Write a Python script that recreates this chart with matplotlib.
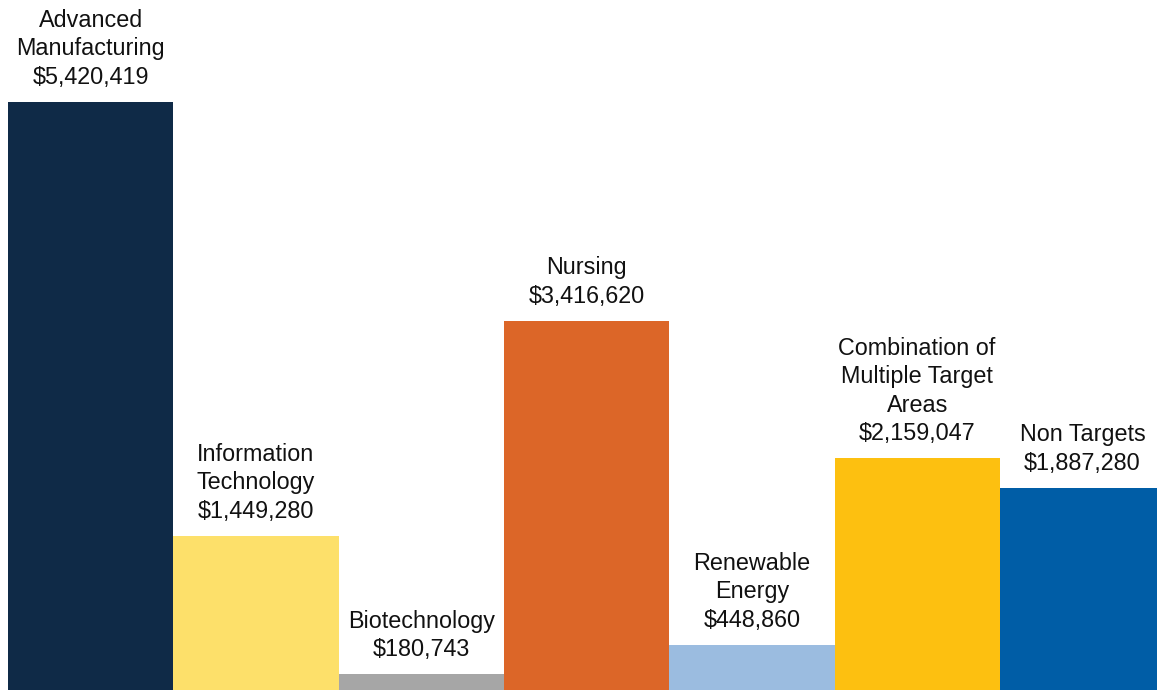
import matplotlib.pyplot as plt
import numpy as np

plt.rcParams['font.family'] = ['Liberation Sans', 'DejaVu Sans']

categories = ['Advanced\nManufacturing', 'Information\nTechnology', 'Biotechnology',
              'Nursing', 'Renewable\nEnergy', 'Combination of\nMultiple Target\nAreas',
              'Non Targets']
values = [5420419, 1449280, 180743, 3416620, 448860, 2159047, 1887280]
colors = ['#0F2A47', '#FDE06A', '#A6A6A6', '#DC6628', '#9BBCE0', '#FDC010', '#005DA6']

W, H = 1157, 690
fig = plt.figure(figsize=(W / 100, H / 100), dpi=100)
ax = fig.add_axes([8 / W, 0, (W - 8) / W, 1])

x = np.arange(len(values))
ax.bar(x, values, width=1.0, color=colors)

for xi, v, cat in zip(x, values, categories):
    ax.annotate(f'{cat}\n${v:,}', (xi, v), xytext=(0, 9.5), textcoords='offset points',
                ha='center', va='bottom', fontsize=16.8, color='#111111',
                linespacing=1.3)

# baseline sits a few pixels below the picture edge
px = 1e6 / 109.2
ax.set_xlim(-0.5, -0.5 + (W - 8) / 165.3)
ax.set_ylim(4 * px, (H + 4) * px)
ax.axis('off')

fig.savefig('out.png', dpi=100)
